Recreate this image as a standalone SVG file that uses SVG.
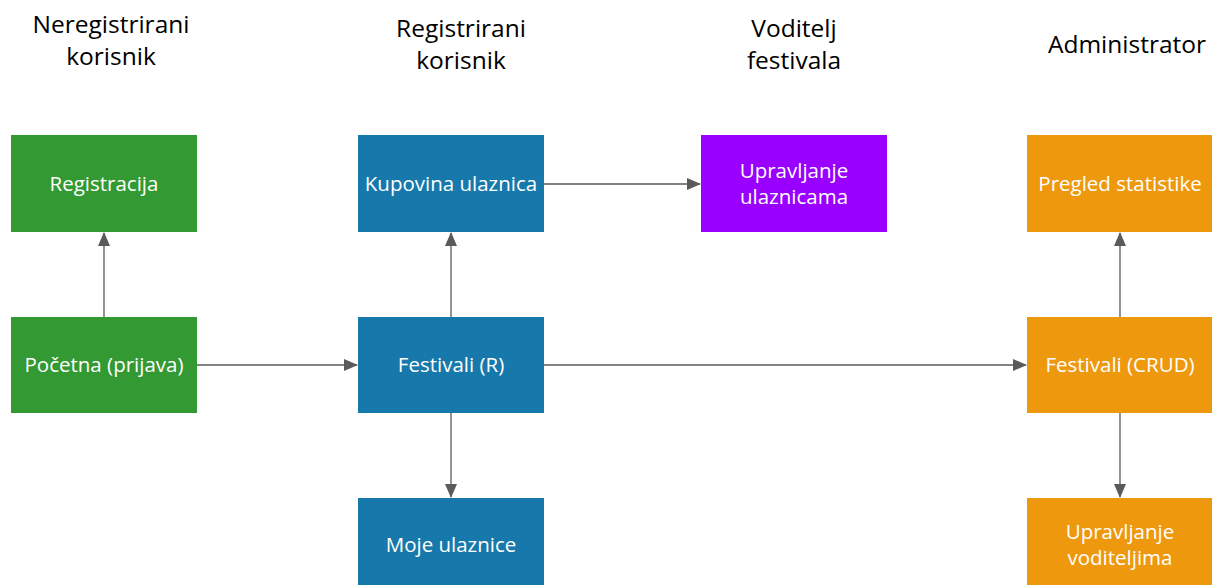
<svg xmlns="http://www.w3.org/2000/svg" width="1212" height="585" viewBox="0 0 1212 585">
<style>
.hdr{font-family:"Open Sans","Noto Sans",sans-serif;font-size:24.5px;fill:#000;text-anchor:middle}
.lbl{font-family:"Open Sans","Noto Sans",sans-serif;font-size:20.5px;fill:#fff;text-anchor:middle}
.g{fill:#339933}.b{fill:#1779AB}.p{fill:#9900FF}.o{fill:#EE980D}
.c{stroke:#5a5a5a;stroke-width:1.3;fill:none;marker-end:url(#ah)}
</style>
<defs>
<marker id="ah" markerWidth="14" markerHeight="12" refX="13" refY="6" orient="auto" markerUnits="userSpaceOnUse">
<path d="M0,0 L14,6 L0,12 Z" fill="#5a5a5a"/>
</marker>
</defs>
<rect width="1212" height="585" fill="#fff"/>
<g id="headers">
<text class="hdr" x="111" y="33">Neregistrirani</text>
<text class="hdr" x="111" y="65">korisnik</text>
<text class="hdr" x="461" y="37">Registrirani</text>
<text class="hdr" x="461" y="69">korisnik</text>
<text class="hdr" x="794" y="37">Voditelj</text>
<text class="hdr" x="794" y="69">festivala</text>
<text class="hdr" x="1127" y="53">Administrator</text>
</g>
<g id="connectors">
<line class="c" x1="104" y1="317" x2="104" y2="233"/>
<line class="c" x1="197" y1="365" x2="357" y2="365"/>
<line class="c" x1="451" y1="317" x2="451" y2="233"/>
<line class="c" x1="451" y1="413" x2="451" y2="497"/>
<line class="c" x1="544" y1="184" x2="700" y2="184"/>
<line class="c" x1="544" y1="365" x2="1026" y2="365"/>
<line class="c" x1="1120" y1="317" x2="1120" y2="233"/>
<line class="c" x1="1120" y1="413" x2="1120" y2="497"/>
</g>
<g id="registracija"><rect class="g" x="11" y="135" width="186" height="97"/><text class="lbl" x="104" y="191">Registracija</text></g>
<g id="pocetna"><rect class="g" x="11" y="317" width="186" height="96"/><text class="lbl" x="104" y="372">Početna (prijava)</text></g>
<g id="kupovina"><rect class="b" x="358" y="135" width="186" height="97"/><text class="lbl" x="451" y="191">Kupovina ulaznica</text></g>
<g id="festivali-r"><rect class="b" x="358" y="317" width="186" height="96"/><text class="lbl" x="451" y="372">Festivali (R)</text></g>
<g id="moje"><rect class="b" x="358" y="498" width="186" height="90"/><text class="lbl" x="451" y="552">Moje ulaznice</text></g>
<g id="upravljanje-ulaznicama"><rect class="p" x="701" y="135" width="186" height="97"/><text class="lbl" x="794" y="178">Upravljanje</text><text class="lbl" x="794" y="204">ulaznicama</text></g>
<g id="pregled"><rect class="o" x="1027" y="135" width="186" height="97"/><text class="lbl" x="1120" y="191">Pregled statistike</text></g>
<g id="festivali-crud"><rect class="o" x="1027" y="317" width="186" height="96"/><text class="lbl" x="1120" y="372">Festivali (CRUD)</text></g>
<g id="upravljanje-voditeljima"><rect class="o" x="1027" y="498" width="186" height="90"/><text class="lbl" x="1120" y="539">Upravljanje</text><text class="lbl" x="1120" y="565">voditeljima</text></g>
</svg>
